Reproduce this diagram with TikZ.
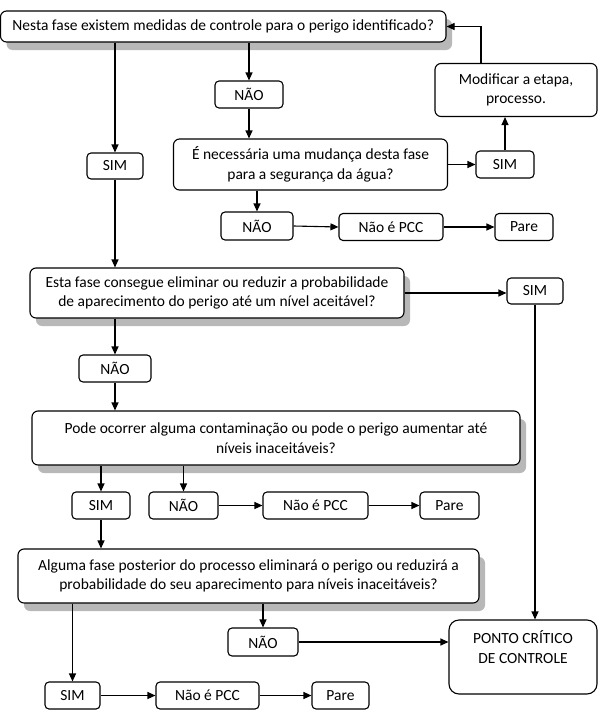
\documentclass[tikz,border=0pt]{standalone}
\usepackage{fontspec}
\setmainfont{Carlito}
\usetikzlibrary{arrows.meta,shadows}
\tikzset{
  box/.style={draw=black, line width=1.1pt, rounded corners=4pt, fill=white, align=center,
    inner sep=0pt, font=\fontsize{15.5}{19.5}\selectfont},
  bigbox/.style={box, rounded corners=6pt,
    drop shadow={shadow xshift=6pt, shadow yshift=-8pt, fill=black!28, opacity=1}},
  arr/.style={line width=1.1pt, -{Triangle[length=8pt,width=7pt]}}
}
\begin{document}
\begin{tikzpicture}[x=1pt,y=-1pt]
\useasboundingbox (0,0) rectangle (601,715);
% nodes
\node[bigbox, minimum width=445.5, minimum height=31] (n1) at (223.25,26.5) {Nesta fase existem medidas de controle para o perigo identificado?};
\node[box, minimum width=68, minimum height=27] (nao1) at (249,94.5) {NÃO};
\node[box, minimum width=56, minimum height=26] (sim1) at (115,166) {SIM};
\node[box, rounded corners=6pt, minimum width=162, minimum height=53] (mod) at (516,90) {Modificar a etapa,\\processo.};
\node[box, rounded corners=6pt, minimum width=274, minimum height=51] (n2) at (310.5,164.5) {É necessária uma mudança desta fase\\para a segurança da água?};
\node[box, minimum width=58, minimum height=27] (sim2) at (505,164.5) {SIM};
\node[box, minimum width=72, minimum height=28] (nao3) at (257,226) {NÃO};
\node[box, minimum width=104, minimum height=27] (pcc3) at (391,227) {Não é PCC};
\node[box, minimum width=58, minimum height=27] (pare3) at (524,227) {Pare};
\node[bigbox, minimum width=374, minimum height=50] (n3) at (217,293) {Esta fase consegue eliminar ou reduzir a probabilidade\\de aparecimento do perigo até um nível aceitável?};
\node[box, minimum width=56, minimum height=26] (sim3) at (535,291) {SIM};
\node[box, minimum width=72, minimum height=27] (nao4) at (115,368.5) {NÃO};
\node[bigbox, minimum width=488, minimum height=54] (n4) at (276,438) {Pode ocorrer alguma contaminação ou pode o perigo aumentar até\\níveis inaceitáveis?};
\node[box, minimum width=58, minimum height=27] (sim5) at (101,505.5) {SIM};
\node[box, minimum width=69, minimum height=27] (nao5) at (183.5,505.5) {NÃO};
\node[box, minimum width=105, minimum height=27] (pcc5) at (315.5,505.5) {Não é PCC};
\node[box, minimum width=59, minimum height=27] (pare5) at (449.5,505.5) {Pare};
\node[bigbox, minimum width=461, minimum height=54] (n5) at (248.5,576) {Alguma fase posterior do processo eliminará o perigo ou reduzirá a\\probabilidade do seu aparecimento para níveis inaceitáveis?};
\node[box, minimum width=70, minimum height=28] (nao6) at (263,642) {NÃO};
\node[box, rounded corners=10pt, minimum width=148, minimum height=74] (ponto) at (523,657) {PONTO CRÍTICO\\DE CONTROLE\\\mbox{}};
\node[box, minimum width=55, minimum height=27] (sim7) at (72.5,695.5) {SIM};
\node[box, minimum width=103, minimum height=27] (pcc7) at (207.5,695.5) {Não é PCC};
\node[box, minimum width=57, minimum height=27] (pare7) at (340.5,695.5) {Pare};
% connectors
\draw[arr] (n1.south -| sim1.north) -- (sim1.north);
\draw[arr] (n1.south -| nao1.north) -- (nao1.north);
\draw[arr] (nao1.south) -- (nao1.south |- n2.north);
\draw[arr] (n2.east) -- (sim2.west);
\draw[arr] (sim2.north) -- (sim2.north |- mod.south);
\draw[arr] ([xshift=-35pt]mod.north) |- (n1.east);
\draw[arr] (n2.south -| nao3.north) -- (nao3.north);
\draw[arr] (nao3.east) -- (pcc3.west);
\draw[arr] (pcc3.east) -- (pare3.west);
\draw[arr] (sim1.south) -- (sim1.south |- n3.north);
\draw[arr] (n3.east) -- (n3.east -| sim3.west);
\draw[arr] (sim3.south) -- (sim3.south |- ponto.north);
\draw[arr] (n3.south -| nao4.north) -- (nao4.north);
\draw[arr] (nao4.south) -- (nao4.south |- n4.north);
\draw[arr] (n4.south -| sim5.north) -- (sim5.north);
\draw[arr] (n4.south -| nao5.north) -- (nao5.north);
\draw[arr] (nao5.east) -- (pcc5.west);
\draw[arr] (pcc5.east) -- (pare5.west);
\draw[arr] (sim5.south) -- (sim5.south |- n5.north);
\draw[arr] (n5.south -| nao6.north) -- (nao6.north);
\draw[arr] (nao6.east) -- (nao6.east -| ponto.west);
\draw[arr] (n5.south -| sim7.north) -- (sim7.north);
\draw[arr] (sim7.east) -- (pcc7.west);
\draw[arr] (pcc7.east) -- (pare7.west);
\end{tikzpicture}
\end{document}
